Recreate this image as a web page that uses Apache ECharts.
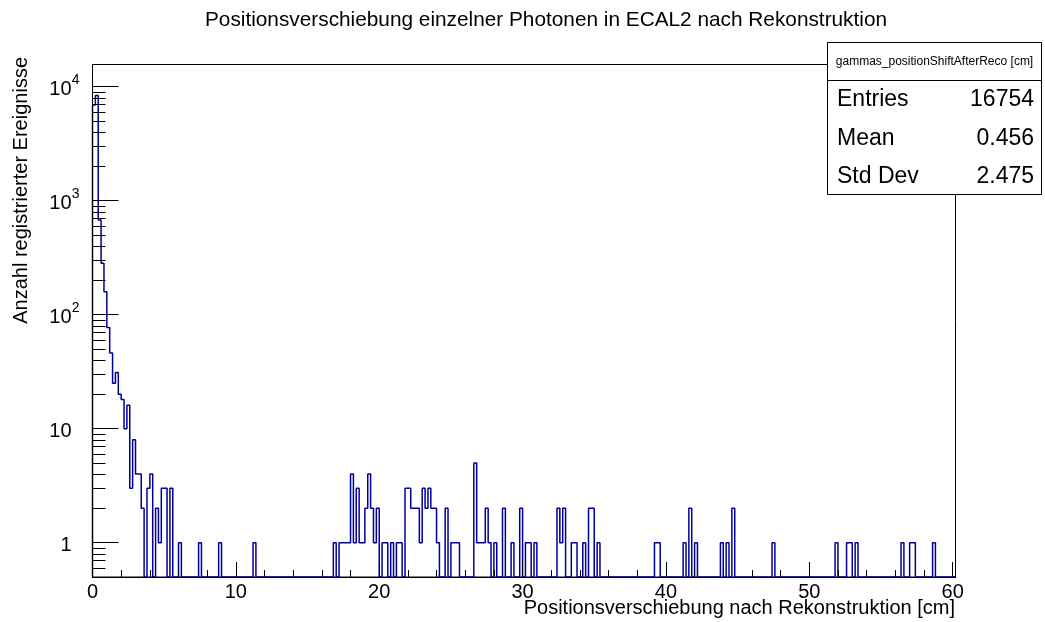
<!DOCTYPE html>
<html>
<head>
<meta charset="utf-8">
<title>Positionsverschiebung einzelner Photonen in ECAL2</title>
<script src="https://cdn.jsdelivr.net/npm/echarts@6/dist/echarts.min.js"></script>
<style>
  html, body { margin: 0; padding: 0; background: #fff; }
  #chart { width: 1045px; height: 622px; }
</style>
</head>
<body>
<div id="chart"></div>
<script>
// histogram binning (cm)
const binWidth = 0.2;
const nBins = 301;
const xMax = 60.2;

// counts of the first bins, 0.0 .. 6.2 cm
const headCounts = [6900, 8350, 677, 282, 159, 77, 46, 25, 31, 20, 18, 10, 16, 3, 8, 4, 4, 2, 0, 3, 4, 0, 2, 1, 3, 3, 0, 3, 0, 0, 1];

// tail: lower edge of every filled bin (cm) and its count
const tailEdges = [7.4, 8.8, 11.2, 16.8, 17.2, 17.4, 17.6, 17.8, 18.0, 18.2, 18.4, 18.6, 18.8, 19.0, 19.2, 19.4, 19.6, 19.8,
  20.2, 20.4, 20.8, 21.2, 21.4, 21.8, 22.0, 22.2, 22.4, 22.6, 22.8, 23.0, 23.2, 23.4, 23.6, 23.8, 24.0, 24.6,
  25.0, 25.2, 25.4, 26.6, 26.8, 27.0, 27.2, 27.4, 27.6, 28.0, 28.6, 29.2, 29.8, 30.2, 30.4, 30.8,
  32.4, 32.6, 32.8, 33.4, 33.6, 34.2, 34.6, 34.8, 35.2, 39.2, 39.4, 41.2, 41.6, 42.0, 43.8, 44.2, 44.6,
  47.4, 51.8, 52.6, 52.8, 53.2, 56.4, 57.0, 57.2, 58.6];
const tailCounts = [1, 1, 1, 1, 1, 1, 1, 1, 4, 1, 3, 1, 1, 2, 4, 2, 1, 2,
  1, 1, 1, 1, 1, 3, 3, 2, 2, 2, 1, 3, 2, 3, 2, 2, 1, 2,
  1, 1, 1, 5, 1, 1, 1, 2, 1, 1, 2, 1, 2, 1, 1, 1,
  2, 1, 2, 1, 1, 1, 2, 2, 1, 1, 1, 1, 2, 1, 1, 1, 2,
  1, 1, 1, 1, 1, 1, 1, 1, 1];

// axis range / ticks
const yMin = 0.5;
const yMax = 15600;
const yMinorTicks = [0.6, 0.7, 0.8, 0.9, 2, 3, 4, 5, 6, 7, 8, 9, 20, 30, 40, 50, 60, 70, 80, 90,
  200, 300, 400, 500, 600, 700, 800, 900, 2000, 3000, 4000, 5000, 6000, 7000, 8000, 9000];

// stats box
const statsTitle = 'gammas_positionShiftAfterReco [cm]';
const statsNames = ['Entries', 'Mean', 'Std Dev'];
const statsValues = ['16754', '0.456', '2.475'];

const FONT = '"Liberation Sans", Arial, Helvetica, sans-serif';

// put all bins together
const counts = new Array(nBins).fill(0);
headCounts.forEach((c, i) => { counts[i] = c; });
tailEdges.forEach((e, k) => { counts[Math.round(e / binWidth)] = tailCounts[k]; });

// outline of the histogram, empty bins sit on the frame bottom like in ROOT
const outline = [[0, yMin]];
counts.forEach((c, i) => {
  outline.push([+(i * binWidth).toFixed(2), c > 0 ? c : yMin]);
});
outline.push([+(nBins * binWidth).toFixed(2), yMin]);

const chart = echarts.init(document.getElementById('chart'), null, { renderer: 'canvas' });

function yLabel(v) {
  const e = Math.round(Math.log10(v));
  if (Math.abs(Math.log10(v) - e) > 1e-6) return '';
  if (e === 0) return '{b|1}{s| }';
  if (e === 1) return '{b|10}{s| }';
  return '{b|10}{s|' + e + '}';
}

const option = {
  animation: false,
  backgroundColor: '#fff',
  textStyle: { fontFamily: FONT },
  grid: {
    left: 92.5, right: 89.5, top: 64.5, bottom: 45,
    show: true, borderColor: '#000', borderWidth: 1, backgroundColor: 'transparent'
  },
  xAxis: {
    type: 'value',
    min: 0, max: xMax, interval: 10,
    z: 3,
    axisLine: { onZero: false, lineStyle: { color: '#000', width: 1 } },
    axisTick: { inside: true, length: 15, lineStyle: { color: '#000' } },
    minorTick: { show: true, splitNumber: 5, length: 7, lineStyle: { color: '#000' } },
    splitLine: { show: false },
    axisLabel: {
      color: '#000', fontSize: 20, fontFamily: FONT, margin: 5,
      formatter: v => (Math.abs(v % 10) < 1e-9 ? String(v) : '')
    }
  },
  yAxis: {
    type: 'log', logBase: 10,
    min: yMin, max: yMax,
    z: 3,
    axisLine: { lineStyle: { color: '#000', width: 1 } },
    axisTick: { inside: true, length: 26, lineStyle: { color: '#000' } },
    splitLine: { show: false },
    axisLabel: {
      color: '#000', margin: 13, fontFamily: FONT,
      formatter: yLabel,
      rich: {
        b: { fontSize: 20, fontFamily: FONT, color: '#000', padding: [6, 0, 0, 0] },
        s: { fontSize: 14, fontFamily: FONT, color: '#000', width: 8, verticalAlign: 'top' }
      }
    }
  },
  series: [
    {
      name: 'gammas_positionShiftAfterReco',
      type: 'line',
      step: 'end',
      data: outline,
      showSymbol: false,
      clip: true,
      z: 2,
      lineStyle: { color: '#000099', width: 1.5 }
    },
    {
      // minor ticks of the log axis at 2..9 x 10^n
      type: 'custom',
      silent: true,
      z: 4,
      data: yMinorTicks.map(v => [0, v]),
      renderItem: function (params, api) {
        const p = api.coord([0, api.value(1)]);
        const y = Math.round(p[1]) + 0.5;
        return {
          type: 'line',
          shape: { x1: p[0], y1: y, x2: p[0] + 13, y2: y },
          style: { stroke: '#000', lineWidth: 1 }
        };
      }
    }
  ],
  graphic: [
    {
      type: 'text', x: 546, y: 20,
      style: {
        text: 'Positionsverschiebung einzelner Photonen in ECAL2 nach Rekonstruktion',
        font: '20.8px ' + FONT, fill: '#000', align: 'center', verticalAlign: 'middle',
        textAlign: 'center', textVerticalAlign: 'middle'
      }
    },
    {
      type: 'text', x: 21, y: 57, rotation: Math.PI / 2,
      style: {
        text: 'Anzahl registrierter Ereignisse',
        font: '20px ' + FONT, fill: '#000', align: 'right', verticalAlign: 'middle',
        textAlign: 'right', textVerticalAlign: 'middle'
      }
    },
    {
      type: 'text', x: 955, y: 608,
      style: {
        text: 'Positionsverschiebung nach Rekonstruktion [cm]',
        font: '20px ' + FONT, fill: '#000', align: 'right', verticalAlign: 'middle',
        textAlign: 'right', textVerticalAlign: 'middle'
      }
    },
    {
      type: 'group', z: 100,
      children: [
        {
          type: 'rect', shape: { x: 827.5, y: 42.5, width: 214, height: 152 },
          style: { fill: '#fff', stroke: '#000', lineWidth: 1 }
        },
        {
          type: 'line', shape: { x1: 827.5, y1: 80.5, x2: 1041.5, y2: 80.5 },
          style: { stroke: '#000', lineWidth: 1 }
        },
        {
          type: 'text', x: 934.5, y: 61.5,
          style: {
            text: statsTitle, font: '12px ' + FONT, fill: '#000',
            align: 'center', verticalAlign: 'middle', textAlign: 'center', textVerticalAlign: 'middle'
          }
        }
      ].concat(statsNames.map((n, i) => ({
        type: 'text', x: 837, y: 100 + i * 38.3,
        style: {
          text: n, font: '23px ' + FONT, fill: '#000',
          align: 'left', verticalAlign: 'middle', textAlign: 'left', textVerticalAlign: 'middle'
        }
      }))).concat(statsValues.map((v, i) => ({
        type: 'text', x: 1034, y: 100 + i * 38.3,
        style: {
          text: v, font: '23px ' + FONT, fill: '#000',
          align: 'right', verticalAlign: 'middle', textAlign: 'right', textVerticalAlign: 'middle'
        }
      })))
    }
  ]
};

chart.setOption(option);
</script>
</body>
</html>
